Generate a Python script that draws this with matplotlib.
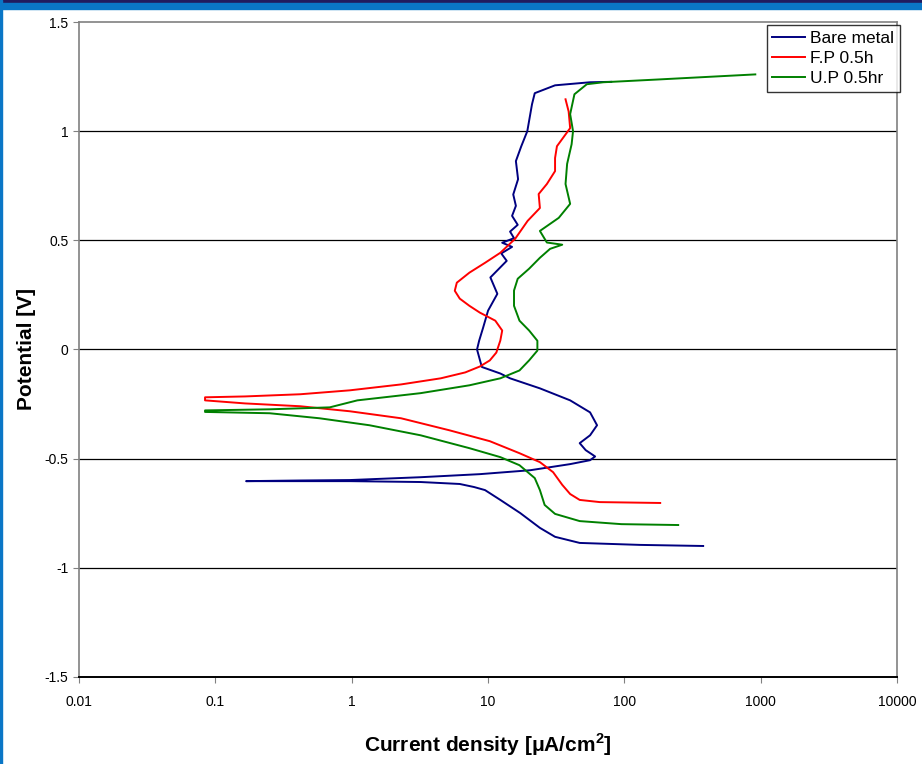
import matplotlib
matplotlib.use("Agg")
import matplotlib.pyplot as plt
from matplotlib.patches import Rectangle

# Bare metal: cathodic branch (right -> Ecorr) then anodic branch (Ecorr -> top)
bare_i = [378, 130, 47, 31, 24, 17.2, 12.3, 9.5, 7.9, 6.2, 3.2, 0.97, 0.42, 0.168,
          0.42, 0.97, 3.2, 8.7, 20.4, 40, 56, 61, 52, 47, 56, 63, 56, 40, 24, 14.5,
          12.3, 9.0, 8.3, 8.6, 9.2, 10.0, 11.7, 10.4, 13.7, 12.5, 15.0, 12.7, 15.5,
          14.5, 16.5, 15.0, 16.0, 15.3, 16.6, 16.0, 17.5, 19.4, 21, 22, 31, 56, 80]
bare_v = [-0.900, -0.895, -0.886, -0.858, -0.817, -0.749, -0.689, -0.644, -0.630,
          -0.616, -0.607, -0.603, -0.603, -0.603,
          -0.600, -0.598, -0.585, -0.571, -0.553, -0.525, -0.507, -0.490, -0.461,
          -0.429, -0.393, -0.347, -0.288, -0.233, -0.178, -0.132,
          -0.110, -0.080, 0.000, 0.040, 0.100, 0.178, 0.255, 0.330, 0.406, 0.440,
          0.470, 0.489, 0.510, 0.540, 0.571, 0.612, 0.658, 0.710, 0.780, 0.863,
          0.930, 1.000, 1.123, 1.174, 1.210, 1.224, 1.226]

# F.P 0.5h
fp_i = [183, 66, 47, 40, 35, 30, 24, 17, 10.3, 5.2, 2.3, 0.97, 0.42, 0.165, 0.084,
        0.084, 0.165, 0.42, 0.97, 2.3, 4.5, 6.8, 8.7, 10.3, 11.5, 12.3, 12.7, 11.3,
        8.7, 7.3, 6.2, 5.7, 5.9, 7.3, 9.5, 12.3, 15.8, 19.5, 24, 23.5, 27, 31, 31,
        32, 40, 39, 37]
fp_v = [-0.703, -0.699, -0.689, -0.662, -0.620, -0.562, -0.516, -0.475, -0.420,
        -0.370, -0.315, -0.283, -0.260, -0.247, -0.233,
        -0.219, -0.215, -0.205, -0.187, -0.160, -0.132, -0.105, -0.078, -0.050,
        -0.014, 0.041, 0.087, 0.132, 0.169, 0.200, 0.233, 0.269, 0.306, 0.352,
        0.397, 0.443, 0.507, 0.589, 0.648, 0.712, 0.758, 0.817, 0.877, 0.931,
        1.014, 1.090, 1.146]

# U.P 0.5hr
up_i = [248, 95, 47, 31, 26, 24, 22, 17, 12.3, 7.3, 3.2, 1.35, 0.58, 0.25, 0.084,
        0.084, 0.25, 0.69, 1.1, 3.2, 7.3, 12.3, 17, 20, 23, 23, 20, 17, 15.5, 15.5,
        16.5, 20, 24, 28.5, 35, 27, 24, 33, 40, 37, 38, 41, 42, 40, 43, 53, 70, 180, 912]
up_v = [-0.804, -0.800, -0.786, -0.753, -0.712, -0.644, -0.589, -0.530, -0.493,
        -0.452, -0.393, -0.347, -0.315, -0.292, -0.286,
        -0.279, -0.274, -0.265, -0.233, -0.200, -0.164, -0.132, -0.096, -0.050,
        -0.005, 0.040, 0.087, 0.132, 0.200, 0.270, 0.324, 0.370, 0.420, 0.461,
        0.480, 0.490, 0.543, 0.603, 0.667, 0.758, 0.850, 0.940, 1.000, 1.078,
        1.169, 1.215, 1.224, 1.237, 1.260]

x_ticks = [0.01, 0.1, 1, 10, 100, 1000, 10000]
x_labels = ["0.01", "0.1", "1", "10", "100", "1000", "10000"]
y_ticks = [-1.5, -1, -0.5, 0, 0.5, 1, 1.5]
y_labels = ["-1.5", "-1", "-0.5", "0", "0.5", "1", "1.5"]

plt.rcParams["font.family"] = ["Liberation Sans", "DejaVu Sans"]

fig = plt.figure(figsize=(9.22, 7.64), dpi=100)
ax = fig.add_axes([0.0857, 0.1139, 0.8873, 0.8573])

# frame bands of the slide
fig.patches.append(Rectangle((0, 0.9955), 1, 0.0045, transform=fig.transFigure,
                             color="#211b5e", zorder=0))
fig.patches.append(Rectangle((0, 0.988), 1, 0.0075, transform=fig.transFigure,
                             color="#0a76c6", zorder=0))
fig.patches.append(Rectangle((0, 0), 0.0018, 1, transform=fig.transFigure,
                             color="#0a76c6", zorder=0))

ax.plot(bare_i, bare_v, color="#000080", lw=1.4, label="Bare metal")
ax.plot(fp_i, fp_v, color="#ff0000", lw=1.4, label="F.P 0.5h")
ax.plot(up_i, up_v, color="#008000", lw=1.4, label="U.P 0.5hr")

ax.set_xscale("log")
ax.set_xlim(0.01, 10000)
ax.set_ylim(-1.5, 1.5)
ax.set_xticks(x_ticks)
ax.set_xticklabels(x_labels, fontsize=10)
ax.minorticks_off()
ax.set_yticks(y_ticks)
ax.set_yticklabels(y_labels, fontsize=10)
ax.tick_params(direction="out", length=4, width=0.8, colors="#808080",
               labelcolor="black")
ax.tick_params(axis="x", pad=9)

for v in [-1, -0.5, 0, 0.5, 1]:
    ax.axhline(v, color="black", lw=0.9, zorder=0)

for s in ["left", "top", "right"]:
    ax.spines[s].set_color("#808080")
    ax.spines[s].set_linewidth(1.2)
ax.spines["bottom"].set_color("black")
ax.spines["bottom"].set_linewidth(1.4)

ax.set_xlabel("Current density [μA/cm$^\\mathregular{2}$]",
              fontsize=15, fontweight="bold", labelpad=16)
ax.set_ylabel("Potential [V]", fontsize=15, fontweight="bold", labelpad=6)

leg = ax.legend(loc="upper right", bbox_to_anchor=(1.003, 0.995), frameon=True,
                fancybox=False, edgecolor="black", prop={"size": 12.5},
                handlelength=1.9, handletextpad=0.3, borderpad=0.3,
                labelspacing=0.3, borderaxespad=0)
leg.get_frame().set_linewidth(1.0)

fig.savefig("out.png", dpi=100)
